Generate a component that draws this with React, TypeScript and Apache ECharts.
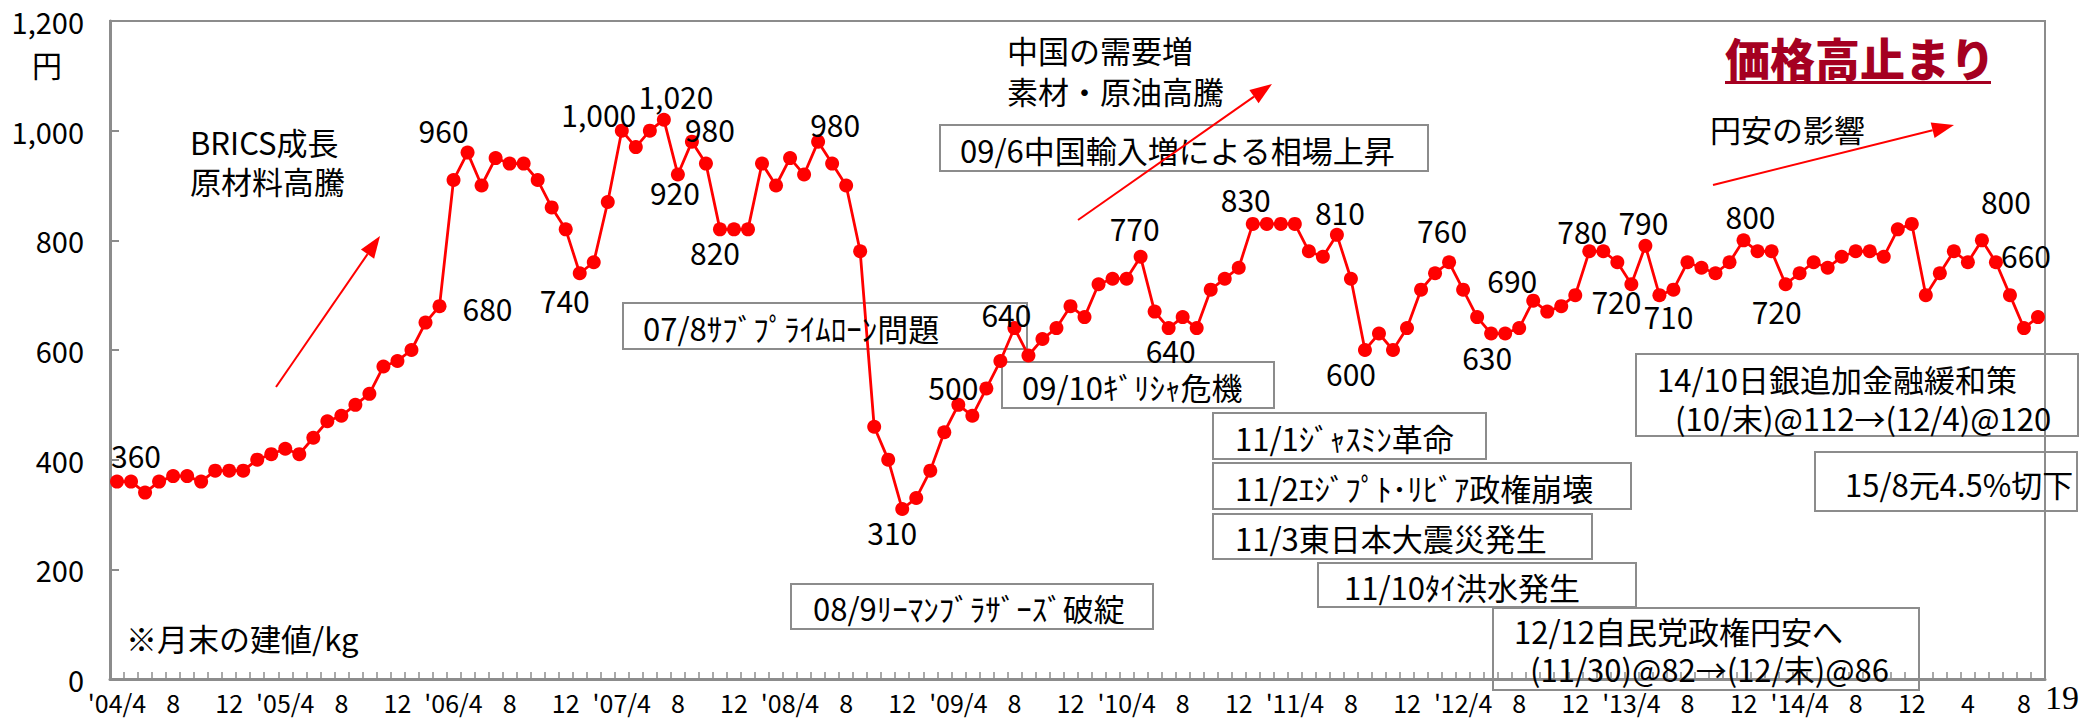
import React, { useEffect, useRef } from "react";
import * as echarts from "echarts";

// Monthly categories: 2004/4 .. 2015/9
const startYear = 2004;
const startMonth = 4;
const monthCount = 138;
const categories: string[] = [];
for (let i = 0; i < monthCount; i++) {
  const t = startMonth - 1 + i;
  categories.push(`${startYear + Math.floor(t / 12)}/${(t % 12) + 1}`);
}

// x-axis tick labels, one every 4 months
const tickLabels = [
  "'04/4", "8", "12", "'05/4", "8", "12", "'06/4", "8", "12", "'07/4", "8", "12",
  "'08/4", "8", "12", "'09/4", "8", "12", "'10/4", "8", "12", "'11/4", "8", "12",
  "'12/4", "8", "12", "'13/4", "8", "12", "'14/4", "8", "12", "4", "8",
];

// month-end price (円/kg)
const prices = [
  360, 360, 340, 360, 370, 370, 360, 380, 380, 380, 400, 410,
  420, 410, 440, 470, 480, 500, 520, 570, 580, 600, 650, 680,
  910, 960, 900, 950, 940, 940, 910, 860, 820, 740, 760, 870,
  1000, 970, 1000, 1020, 920, 980, 940, 820, 820, 820, 940, 900,
  950, 920, 980, 940, 900, 780, 460, 400, 310, 330, 380, 450,
  500, 480, 530, 580, 640, 590, 620, 640, 680, 660, 720, 730,
  730, 770, 670, 640, 660, 640, 710, 730, 750, 830, 830, 830,
  830, 780, 770, 810, 730, 600, 630, 600, 640, 710, 740, 760,
  710, 660, 630, 630, 640, 690, 670, 680, 700, 780, 780, 760,
  720, 790, 700, 710, 760, 750, 740, 760, 800, 780, 780, 720,
  740, 760, 750, 770, 780, 780, 770, 820, 830, 700, 740, 780,
  760, 800, 760, 700, 640, 660,
];

// labelled points: [index, text]
const labelPoints: [number, string][] = [
  [0, "360"], [23, "680"], [25, "960"], [33, "740"], [36, "1,000"], [39, "1,020"],
  [40, "920"], [41, "980"], [43, "820"], [50, "980"], [56, "310"], [60, "500"],
  [64, "640"], [73, "770"], [75, "640"], [81, "830"], [87, "810"], [89, "600"],
  [95, "760"], [98, "630"], [101, "690"], [105, "780"], [108, "720"], [109, "790"],
  [110, "710"], [116, "800"], [119, "720"], [133, "800"], [137, "660"],
];
// label offsets (layout), same order as labelPoints
const labelOffsets: [number, number][] = [
  [19, -27], [48, 2], [-24, -23], [-15, 27], [-23, -17], [12, -24],
  [-3, 17], [18, -13], [-5, 23], [17, -18], [-10, 23], [-5, -18],
  [-8, -14], [-6, -29], [2, 22], [-7, -25], [3, -23], [-14, 23],
  [-7, -32], [-4, 23], [-21, -21], [-7, -20], [-15, 17], [-2, -24],
  [9, 21], [7, -24], [-9, 27], [24, -39], [-12, -62],
];

// annotation boxes: lines of text
const boxTexts: string[][] = [
  ["09/6中国輸入増による相場上昇"],
  ["07/8ｻﾌﾞﾌﾟﾗｲﾑﾛｰﾝ問題"],
  ["09/10ｷﾞﾘｼｬ危機"],
  ["11/1ｼﾞｬｽﾐﾝ革命"],
  ["11/2ｴｼﾞﾌﾟﾄ･ﾘﾋﾞｱ政権崩壊"],
  ["11/3東日本大震災発生"],
  ["11/10ﾀｲ洪水発生"],
  ["12/12自民党政権円安へ", "(11/30)@82→(12/末)@86"],
  ["08/9ﾘｰﾏﾝﾌﾞﾗｻﾞｰｽﾞ破綻"],
  ["14/10日銀追加金融緩和策", "(10/末)@112→(12/4)@120"],
  ["15/8元4.5%切下"],
];
// box layout
const boxLayout: { x: number; y: number; w: number; h: number; t: [number, number][] }[] = [
  { x: 940, y: 125, w: 488, h: 46, t: [[960, 149]] },
  { x: 623, y: 303, w: 404, h: 46, t: [[643, 327]] },
  { x: 1002, y: 362, w: 272, h: 46, t: [[1022, 386]] },
  { x: 1213, y: 413, w: 273, h: 46, t: [[1235, 437]] },
  { x: 1213, y: 463, w: 418, h: 46, t: [[1235, 487]] },
  { x: 1213, y: 514, w: 379, h: 45, t: [[1235, 537]] },
  { x: 1318, y: 563, w: 318, h: 44, t: [[1344, 586]] },
  { x: 1493, y: 608, w: 426, h: 82, t: [[1514, 630], [1530, 668]] },
  { x: 791, y: 584, w: 362, h: 45, t: [[813, 607]] },
  { x: 1636, y: 354, w: 442, h: 82, t: [[1657, 378], [1675, 417]] },
  { x: 1815, y: 452, w: 262, h: 59, t: [[1845, 483]] },
];

const FONT = '"Noto Sans CJK JP", "Noto Sans", sans-serif';
const GRAY = "#8c8c8c";
const RED = "#ff0000";
const SYMBOL = 14;

function txt(text: string, x: number, y: number, size: number, opts: any = {}) {
  return {
    type: "text",
    z: 100,
    style: {
      text,
      x,
      y,
      fill: opts.fill || "#000",
      font: `${opts.weight || "normal"} ${size}px ${opts.family || FONT}`,
      textAlign: opts.align || "left",
      align: opts.align || "left",
      textVerticalAlign: "middle",
      verticalAlign: "middle",
    },
  };
}

function arrow(x1: number, y1: number, x2: number, y2: number) {
  const dx = x2 - x1;
  const dy = y2 - y1;
  const len = Math.sqrt(dx * dx + dy * dy);
  const ux = dx / len;
  const uy = dy / len;
  const hl = 22;
  const hw = 8;
  const bx = x2 - ux * hl;
  const by = y2 - uy * hl;
  return [
    {
      type: "line",
      z: 100,
      shape: { x1, y1, x2: bx, y2: by },
      style: { stroke: RED, lineWidth: 2 },
    },
    {
      type: "polygon",
      z: 100,
      shape: {
        points: [
          [x2, y2],
          [bx - uy * hw, by + ux * hw],
          [bx + uy * hw, by - ux * hw],
        ],
      },
      style: { fill: RED },
    },
  ];
}

export default function App() {
  const ref = useRef<HTMLDivElement>(null);

  useEffect(() => {
    if (!ref.current) return;
    const chart = echarts.init(ref.current, null, { renderer: "svg" });

    const labelMap: Record<number, { text: string; off: [number, number] }> = {};
    labelPoints.forEach(([idx, text], k) => {
      labelMap[idx] = { text, off: labelOffsets[k] };
    });

    const seriesData = prices.map((v, i) => {
      const l = labelMap[i];
      if (!l) return v;
      return {
        value: v,
        label: {
          show: true,
          position: [SYMBOL / 2 + l.off[0], SYMBOL / 2 + l.off[1]],
          align: "center",
          verticalAlign: "middle",
          formatter: l.text,
          color: "#000",
          fontSize: 30,
          fontFamily: FONT,
        },
      };
    });

    const graphics: any[] = [];
    boxLayout.forEach((b, k) => {
      graphics.push({
        type: "rect",
        z: 1,
        shape: { x: b.x, y: b.y, width: b.w, height: b.h },
        style: { fill: "rgba(0,0,0,0)", stroke: GRAY, lineWidth: 2 },
      });
      boxTexts[k].forEach((line, j) => {
        graphics.push(txt(line, b.t[j][0], b.t[j][1], 31));
      });
    });

    graphics.push(txt("円", 47, 64, 30, { align: "center" }));
    graphics.push(txt("BRICS成長", 190, 141, 31));
    graphics.push(txt("原材料高騰", 190, 180, 31));
    graphics.push(...arrow(276, 387, 380, 236));
    graphics.push(txt("中国の需要増", 1007, 49, 31));
    graphics.push(txt("素材・原油高騰", 1007, 90, 31));
    graphics.push(...arrow(1078, 220, 1272, 84));
    graphics.push(txt("価格高止まり", 1725, 57, 45, { weight: "900", fill: "#a50021" }));
    graphics.push({
      type: "rect",
      z: 100,
      shape: { x: 1725, y: 81, width: 266, height: 3 },
      style: { fill: "#a50021" },
    });
    graphics.push(txt("円安の影響", 1710, 128, 31));
    graphics.push(...arrow(1713, 185, 1954, 125));
    graphics.push(txt("※月末の建値/kg", 126, 637, 31));
    graphics.push(
      txt("19", 2079, 697, 34, { align: "right", family: '"Liberation Serif", "DejaVu Serif", serif' })
    );

    chart.setOption({
      animation: false,
      backgroundColor: "#fff",
      grid: {
        left: 110,
        top: 21,
        right: 37,
        bottom: 40,
        show: true,
        borderColor: GRAY,
        borderWidth: 2,
        containLabel: false,
      },
      xAxis: {
        type: "category",
        data: categories,
        boundaryGap: true,
        axisLine: { lineStyle: { color: GRAY, width: 3 } },
        axisTick: {
          show: true,
          inside: true,
          interval: 0,
          length: 7,
          lineStyle: { color: GRAY, width: 1.5 },
        },
        axisLabel: {
          interval: 3,
          formatter: (_v: string, idx: number) => tickLabels[Math.round(idx / 4)] ?? "",
          color: "#000",
          fontSize: 25,
          fontFamily: FONT,
          margin: 10,
        },
        splitLine: { show: false },
      },
      yAxis: {
        type: "value",
        min: 0,
        max: 1200,
        interval: 200,
        axisLine: { show: true, lineStyle: { color: GRAY, width: 3 } },
        axisTick: { show: true, inside: true, length: 9, lineStyle: { color: GRAY, width: 2 } },
        axisLabel: {
          formatter: (v: number) => v.toLocaleString("en-US"),
          color: "#000",
          fontSize: 29,
          fontFamily: FONT,
          margin: 26,
        },
        splitLine: { show: false },
      },
      graphic: { elements: graphics },
      series: [
        {
          type: "line",
          data: seriesData,
          symbol: "circle",
          symbolSize: SYMBOL,
          showAllSymbol: true,
          z: 10,
          lineStyle: { color: RED, width: 2.8 },
          itemStyle: { color: RED },
          label: { show: false },
          emphasis: { disabled: true },
        },
      ],
    });

    return () => chart.dispose();
  }, []);

  return (
    <div
      ref={ref}
      style={{ position: "fixed", left: 0, top: 0, width: 2082, height: 719, background: "#fff" }}
    />
  );
}
